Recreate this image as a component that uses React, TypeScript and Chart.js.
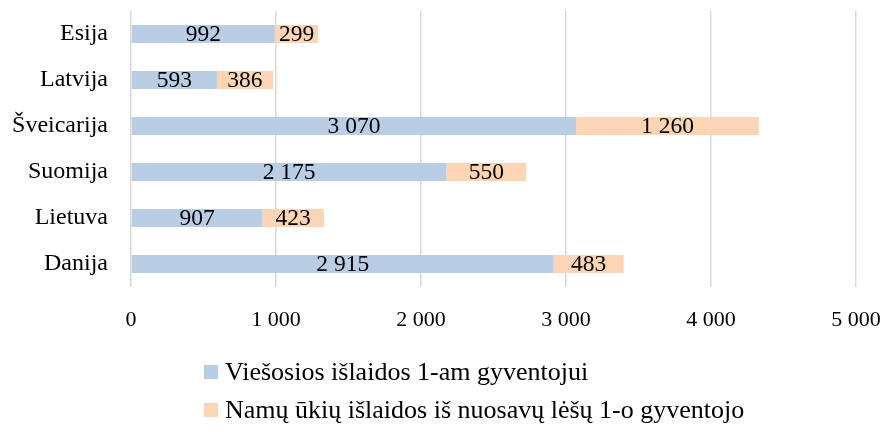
import React, { useEffect, useRef } from "react";
import { Chart, registerables } from "chart.js";

Chart.register(...registerables);

const categories = ["Esija", "Latvija", "Šveicarija", "Suomija", "Lietuva", "Danija"];
const publicSpending = [992, 593, 3070, 2175, 907, 2915];
const householdSpending = [299, 386, 1260, 550, 423, 483];
const seriesLabels = [
  "Viešosios išlaidos 1-am gyventojui",
  "Namų ūkių išlaidos iš nuosavų lėšų 1-o gyventojo",
];
const xTicks = [0, 1000, 2000, 3000, 4000, 5000];

const FONT = "'Liberation Serif', 'DejaVu Serif', serif";
const BLUE = "#B9CDE5";
const ORANGE = "#FCD5B5";

const fmt = (v: number) => String(Math.round(v)).replace(/\B(?=(\d{3})+(?!\d))/g, " ");

const dataLabelsPlugin = {
  id: "segLabels",
  afterDatasetsDraw(chart: any) {
    const ctx = chart.ctx;
    ctx.save();
    ctx.font = `23.5px ${FONT}`;
    ctx.fillStyle = "#000";
    ctx.textAlign = "center";
    ctx.textBaseline = "middle";
    chart.data.datasets.forEach((ds: any, di: number) => {
      const meta = chart.getDatasetMeta(di);
      meta.data.forEach((el: any, i: number) => {
        const cx = (el.x + el.base) / 2;
        ctx.fillText(fmt(ds.data[i]), cx, el.y + 1);
      });
    });
    ctx.restore();
  },
};

const legendPlugin = {
  id: "customLegend",
  afterDraw(chart: any) {
    const ctx = chart.ctx;
    ctx.save();
    ctx.font = `26px ${FONT}`;
    ctx.textAlign = "left";
    ctx.textBaseline = "middle";
    const x0 = 196;
    const rows = [chart.chartArea.bottom + 85, chart.chartArea.bottom + 123];
    chart.data.datasets.forEach((ds: any, i: number) => {
      const y = rows[i];
      ctx.fillStyle = ds.backgroundColor;
      ctx.fillRect(x0, y - 7, 14, 14);
      ctx.fillStyle = "#000";
      ctx.fillText(ds.label, x0 + 21, y + 1);
    });
    ctx.restore();
  },
};

export default function App() {
  const ref = useRef<HTMLCanvasElement | null>(null);
  useEffect(() => {
    if (!ref.current) return;
    const chart = new Chart(ref.current, {
      type: "bar",
      data: {
        labels: categories,
        datasets: [
          {
            label: seriesLabels[0],
            data: publicSpending,
            backgroundColor: BLUE,
            barPercentage: 0.49,
            categoryPercentage: 0.8,
          },
          {
            label: seriesLabels[1],
            data: householdSpending,
            backgroundColor: ORANGE,
            barPercentage: 0.49,
            categoryPercentage: 0.8,
          },
        ],
      },
      options: {
        indexAxis: "y",
        animation: false,
        responsive: true,
        maintainAspectRatio: false,
        layout: { autoPadding: false, padding: { top: 11, right: 24, bottom: 101, left: 0 } },
        plugins: {
          legend: { display: false },
          tooltip: { enabled: false },
        },
        scales: {
          x: {
            stacked: true,
            min: 0,
            max: 5000,
            afterBuildTicks: (scale: any) => {
              scale.ticks = xTicks.map((v) => ({ value: v }));
            },
            afterFit: (scale: any) => {
              scale.height = 45;
              scale.paddingLeft = 0;
              scale.paddingRight = 0;
            },
            ticks: {
              callback: (v: any) => fmt(Number(v)),
              font: { family: FONT, size: 22 },
              color: "#000",
              padding: 20,
              maxRotation: 0,
            },
            grid: { color: "#D9D9D9", lineWidth: 1.5, drawTicks: false },
            border: { display: false },
          },
          y: {
            stacked: true,
            afterFit: (scale: any) => {
              scale.width = 123;
              scale.paddingTop = 0;
              scale.paddingBottom = 0;
            },
            ticks: {
              font: { family: FONT, size: 24 },
              color: "#000",
              padding: 23,
            },
            grid: { display: false, drawTicks: false },
            border: { display: false },
          },
        },
      },
      plugins: [dataLabelsPlugin, legendPlugin],
    });
    return () => chart.destroy();
  }, []);
  return (
    <div style={{ width: 872, height: 433, marginTop: -8, marginBottom: -8, position: "relative" }}>
      <canvas ref={ref} />
    </div>
  );
}
